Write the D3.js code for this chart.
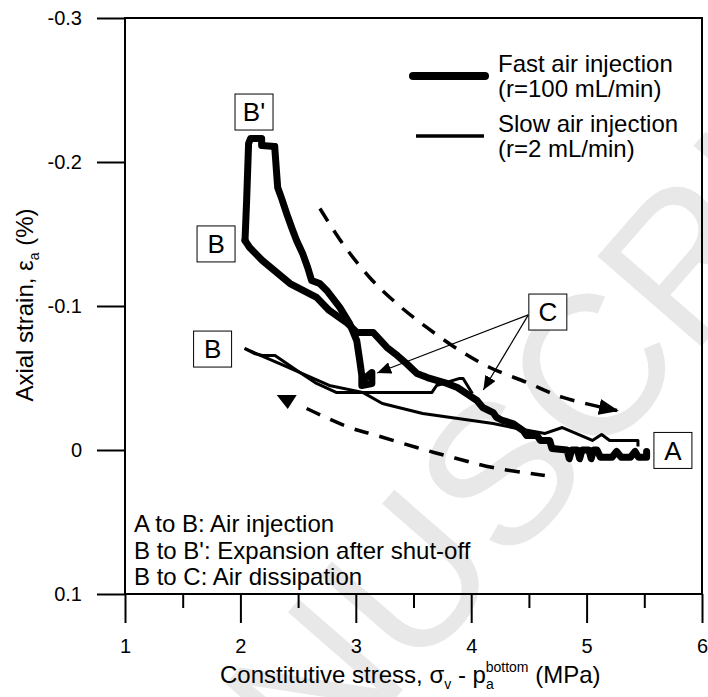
<!DOCTYPE html>
<html>
<head>
<meta charset="utf-8">
<script src="https://cdn.jsdelivr.net/npm/d3@7"></script>
<style>
  body { margin: 0; background: #fff; }
  svg { display: block; font-family: "Liberation Sans", Arial, sans-serif; }
</style>
</head>
<body>
<div id="chart"></div>
<script>
// [constitutive stress (MPa), axial strain (%)]
var fastInjection = [[5.52,0.001],[5.52,0.005],[5.45,0.005],[5.42,0.001],[5.38,0.005],[5.30,0.005],[5.26,0.001],[5.22,0.005],
  [5.12,0.005],[5.09,0.000],[5.06,0.000],[5.04,0.006],[5.02,0.000],[4.96,0.000],[4.94,0.006],[4.92,0.000],[4.87,0.000],
  [4.85,0.006],[4.83,0.000],[4.70,-0.001],[4.68,-0.0066],[4.60,-0.0066],[4.57,-0.010],[4.48,-0.010],[4.45,-0.0135],
  [4.36,-0.0184],[4.27,-0.0205],[4.22,-0.0226],[4.19,-0.026],[4.10,-0.0295],[4.05,-0.0344],[3.96,-0.0392],[3.88,-0.0434],
  [3.79,-0.0462],[3.70,-0.0483],[3.62,-0.0503],[3.53,-0.0531],[3.44,-0.060],[3.36,-0.0656],[3.27,-0.0712],[3.15,-0.0816],
  [3.01,-0.0816],[2.92,-0.0885],[2.77,-0.0969],[2.66,-0.106],[2.43,-0.1156],[2.19,-0.1316],[2.08,-0.1406],[2.04,-0.1455]];
var fastExpansion = [[2.04,-0.1455],[2.054,-0.1733],[2.071,-0.2128],[2.088,-0.2163],[2.184,-0.2163],[2.184,-0.2115],[2.297,-0.2108]];
var fastDissipation = [[2.297,-0.2108],[2.323,-0.1823],[2.357,-0.1747],[2.401,-0.1642],[2.444,-0.1545],[2.487,-0.1455],
  [2.539,-0.1365],[2.583,-0.1267],[2.617,-0.1177],[2.687,-0.1156],[2.748,-0.1108],[2.861,-0.099],[2.947,-0.0878],
  [3.008,-0.076],[3.034,-0.0622],[3.052,-0.0517],[3.052,-0.0448],[3.139,-0.0462],[3.139,-0.0538],[3.078,-0.0497],[3.06,-0.045]];
var slowInjection = [[5.445,-0.0024],[5.445,-0.0066],[5.20,-0.0066],[5.13,-0.0108],[5.05,-0.0066],[4.79,-0.0156],
  [4.64,-0.0115],[4.40,-0.0149],[4.19,-0.0184],[3.58,-0.0253],[3.23,-0.0323],[3.06,-0.040],[2.77,-0.0448],[2.34,-0.060],[2.036,-0.0705]];
var slowDissipation = [[2.036,-0.0705],[2.12,-0.067],[2.19,-0.0656],[2.30,-0.0656],[2.49,-0.0552],[2.66,-0.0462],
  [2.83,-0.040],[3.66,-0.040],[3.70,-0.0448],[3.90,-0.0497],[3.93,-0.0497],[4.01,-0.0392]];

// dashed trend guides
var guideUpper = [[2.689,-0.1677],[2.886,-0.1434],[3.120,-0.1198],[3.355,-0.1017],[3.615,-0.0851],[3.901,-0.0691],
  [4.161,-0.0573],[4.482,-0.0469],[4.794,-0.0365],[5.263,-0.0274]];
var guideLower = [[2.574,-0.0288],[2.947,-0.0156],[3.181,-0.0101],[3.528,-0.0017],[3.840,0.0052],[4.188,0.0122],[4.638,0.0177]];
var guideLowerHead = [2.41,-0.0333];

var xTicks = [1, 2, 3, 4, 5, 6];
var xMinorTicks = [1.5, 2.5, 3.5, 4.5, 5.5];
var yTicks = [-0.3, -0.2, -0.1, 0, 0.1];

var labelText = ["B'", "B", "B", "C", "A"];
var labelX = [2.118, 1.789, 1.759, 4.664, 5.748];
var labelY = [-0.2347, -0.1431, -0.0701, -0.0958, 0.0003];

var arrowFrom = [4.495, -0.0938];
var arrowTo = [[3.185, -0.0535], [4.105, -0.0417]];

var notes = ["A to B: Air injection", "B to B': Expansion after shut-off", "B to C: Air dissipation"];

var width = 708, height = 697;

var svg = d3.select("#chart").append("svg")
            .attr("width", width)
            .attr("height", height);

var x = d3.scaleLinear().domain([1, 6]).range([125, 702]);
var y = d3.scaleLinear().domain([-0.3, 0.1]).range([18, 594]);

// watermark
svg.append("text")
   .attr("transform", "translate(122,1013) rotate(-49)")
   .attr("font-size", 200)
   .attr("fill", "#e8e8e8")
   .text("MANUSCRIPT");

var defs = svg.append("defs");
defs.append("marker")
    .attr("id", "head-small")
    .attr("viewBox", "0 0 14 12")
    .attr("markerUnits", "userSpaceOnUse")
    .attr("markerWidth", 14).attr("markerHeight", 12)
    .attr("refX", 14).attr("refY", 6)
    .attr("orient", "auto")
    .append("path").attr("d", "M0,0L14,6L0,12Z").attr("fill", "#000");
defs.append("marker")
    .attr("id", "head-big")
    .attr("viewBox", "0 0 20 16")
    .attr("markerUnits", "userSpaceOnUse")
    .attr("markerWidth", 20).attr("markerHeight", 16)
    .attr("refX", 18).attr("refY", 8)
    .attr("orient", "auto")
    .append("path").attr("d", "M0,0L20,8L0,16Z").attr("fill", "#000");

// axes
var xAxis = svg.append("g")
   .attr("transform", "translate(0,594)")
   .call(d3.axisBottom(x).tickValues(xTicks).tickSize(29).tickPadding(16).tickFormat(d3.format("d")));
var xMinor = svg.append("g")
   .attr("transform", "translate(0,594)")
   .call(d3.axisBottom(x).tickValues(xMinorTicks).tickSize(14).tickFormat(""));
var yAxis = svg.append("g")
   .attr("transform", "translate(125,0)")
   .call(d3.axisLeft(y).tickValues(yTicks).tickSize(28).tickPadding(15)
        .tickFormat(function(d) { return d === 0 ? "0" : d.toFixed(1); }));

[xAxis, xMinor, yAxis].forEach(function(g) {
  g.select(".domain").remove();
  g.selectAll(".tick line").attr("stroke", "#000").attr("stroke-width", 2);
  g.selectAll(".tick text").attr("fill", "#000").style("font-size", "20px")
   .style("font-family", "'Liberation Sans', Arial, sans-serif");
});

svg.append("rect")
   .attr("x", x(1)).attr("y", y(-0.3))
   .attr("width", x(6) - x(1)).attr("height", y(0.1) - y(-0.3))
   .attr("fill", "none").attr("stroke", "#000").attr("stroke-width", 2);

// axis titles
var xt = svg.append("text")
   .attr("x", 220).attr("y", 683)
   .style("font-size", "24px");
xt.append("tspan").text("Constitutive stress, \u03c3");
xt.append("tspan").attr("dy", 6).style("font-size", "14px").text("v");
xt.append("tspan").attr("dy", -6).text(" - p");
xt.append("tspan").attr("dy", 6).style("font-size", "14px").text("a");
xt.append("tspan").attr("dx", -8).attr("dy", -17).style("font-size", "14px").text("bottom");
xt.append("tspan").attr("dy", 11).text(" (MPa)");

var yt = svg.append("text")
   .attr("transform", "translate(33,305) rotate(-90)")
   .attr("text-anchor", "middle")
   .style("font-size", "24px");
yt.append("tspan").text("Axial strain, \u03b5");
yt.append("tspan").attr("dy", 6).style("font-size", "14px").text("a");
yt.append("tspan").attr("dy", -6).text(" (%)");

// dashed guides
var line = d3.line().x(function(d) { return x(d[0]); }).y(function(d) { return y(d[1]); })
             .curve(d3.curveCatmullRom);
svg.append("path")
   .attr("d", line(guideUpper))
   .attr("fill", "none").attr("stroke", "#000").attr("stroke-width", 3.5)
   .attr("stroke-dasharray", "15,11")
   .attr("marker-end", "url(#head-big)");
svg.append("path")
   .attr("d", line(guideLower))
   .attr("fill", "none").attr("stroke", "#000").attr("stroke-width", 3.5)
   .attr("stroke-dasharray", "15,11");
svg.append("path")
   .attr("transform", "translate(" + x(guideLowerHead[0]) + "," + y(guideLowerHead[1]) + ")")
   .attr("d", "M-11,-7L9,-7L0,7Z")
   .attr("fill", "#000");

// data curves
var path = d3.line().x(function(d) { return x(d[0]); }).y(function(d) { return y(d[1]); });

[slowInjection, slowDissipation].forEach(function(s) {
  svg.append("path").attr("d", path(s))
     .attr("fill", "none").attr("stroke", "#000").attr("stroke-width", 3)
     .attr("stroke-linejoin", "round");
});
[fastInjection, fastExpansion, fastDissipation].forEach(function(s) {
  svg.append("path").attr("d", path(s))
     .attr("fill", "none").attr("stroke", "#000").attr("stroke-width", 7)
     .attr("stroke-linejoin", "round").attr("stroke-linecap", "round");
});

// C arrows
arrowTo.forEach(function(t) {
  svg.append("line")
     .attr("x1", x(arrowFrom[0])).attr("y1", y(arrowFrom[1]))
     .attr("x2", x(t[0])).attr("y2", y(t[1]))
     .attr("stroke", "#000").attr("stroke-width", 1.2)
     .attr("marker-end", "url(#head-small)");
});

// point labels
var lab = svg.selectAll(".lab")
   .data(labelText)
   .enter().append("g")
   .attr("class", "lab")
   .attr("transform", function(d, i) { return "translate(" + x(labelX[i]) + "," + y(labelY[i]) + ")"; });
lab.append("rect")
   .attr("x", -19).attr("y", -18).attr("width", 38).attr("height", 36)
   .attr("fill", "#fff").attr("stroke", "#000").attr("stroke-width", 1);
lab.append("text")
   .attr("text-anchor", "middle").attr("dy", "0.36em")
   .style("font-size", "26px")
   .text(function(d) { return d; });

// legend
var legend = svg.append("g");
legend.append("line").attr("x1", 413).attr("x2", 485).attr("y1", 76).attr("y2", 76)
      .attr("stroke", "#000").attr("stroke-width", 8).attr("stroke-linecap", "round");
legend.append("line").attr("x1", 416).attr("x2", 484).attr("y1", 136).attr("y2", 136)
      .attr("stroke", "#000").attr("stroke-width", 3.5);
var legendLines = ["Fast air injection", "(r=100 mL/min)", "Slow air injection", "(r=2 mL/min)"];
var legendY = [72, 97, 132, 157];
legend.selectAll("text").data(legendLines).enter().append("text")
      .attr("x", 498).attr("y", function(d, i) { return legendY[i]; })
      .style("font-size", "24px")
      .text(function(d) { return d; });

// notes
svg.selectAll(".note").data(notes).enter().append("text")
   .attr("class", "note")
   .attr("x", 134).attr("y", function(d, i) { return 532 + i * 26.5; })
   .style("font-size", "24px")
   .text(function(d) { return d; });
</script>
</body>
</html>
